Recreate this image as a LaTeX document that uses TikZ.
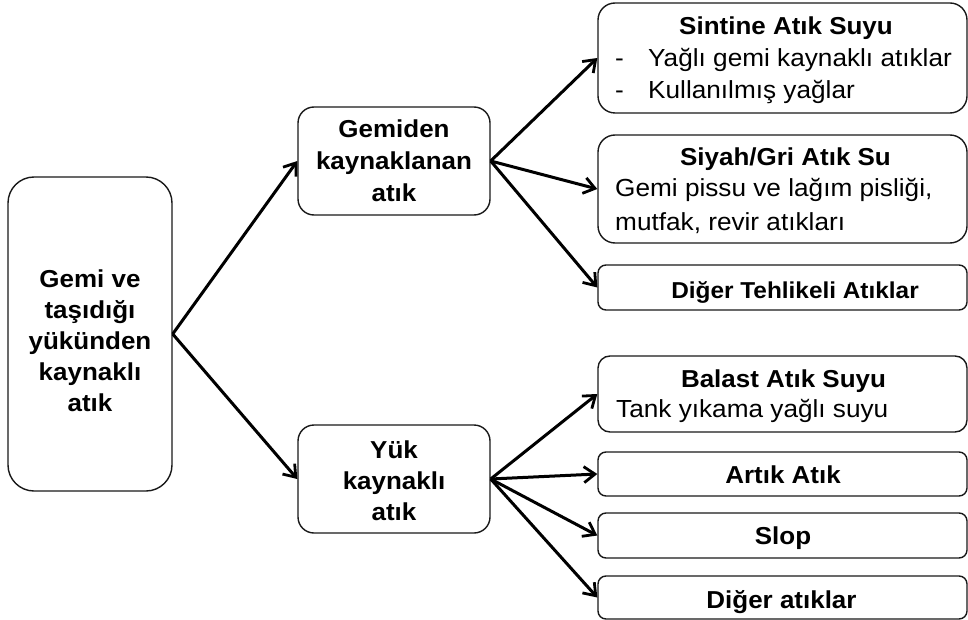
\documentclass[tikz,border=0pt]{standalone}
\usepackage{fontspec}
\setmainfont{Liberation Sans}[FakeStretch=1.06]
\usetikzlibrary{arrows.meta}
\begin{document}
\begin{tikzpicture}[x=1pt,y=-1pt,
  box/.style={draw=black!90, line width=1.4pt, fill=white, inner sep=0pt},
  conn/.style={line width=3pt, -{Straight Barb[length=11pt,width=16pt,line width=2.8pt]}},
  % multi-line blocks are placed by the baseline of their last line
  hd/.style={anchor=base, inner sep=0pt, align=center, font=\fontsize{24.5}{31}\selectfont\bfseries},
  tx/.style={anchor=base west, inner sep=0pt, align=left, font=\fontsize{24.7}{33}\selectfont},
]
\useasboundingbox (0,0) rectangle (968,620);

% boxes
\node[box, minimum width=164pt, minimum height=314pt, rounded corners=26pt] (root) at (90,334) {};
\node[box, minimum width=192pt, minimum height=108pt, rounded corners=16pt] (gem) at (394,161) {};
\node[box, minimum width=192pt, minimum height=108pt, rounded corners=16pt] (yuk) at (394,479) {};
\node[box, minimum width=369pt, minimum height=110pt, rounded corners=17pt] (sin) at (782.5,58) {};
\node[box, minimum width=369pt, minimum height=108pt, rounded corners=17pt] (siy) at (782.5,189) {};
\node[box, minimum width=369pt, minimum height=45pt, rounded corners=8pt] (dt) at (782.5,287.5) {};
\node[box, minimum width=369pt, minimum height=76pt, rounded corners=12pt] (bal) at (782.5,394) {};
\node[box, minimum width=369pt, minimum height=44pt, rounded corners=8pt] (art) at (782.5,474) {};
\node[box, minimum width=369pt, minimum height=45pt, rounded corners=8pt] (slop) at (782.5,535.5) {};
\node[box, minimum width=369pt, minimum height=43pt, rounded corners=8pt] (dig) at (782.5,597.5) {};

% texts
\node[hd] (troot) at (90,411) {Gemi ve\\taşıdığı\\yükünden\\kaynaklı\\atık};
\node[hd, font=\fontsize{24.5}{32}\selectfont\bfseries] (tgem) at (394,202) {Gemiden\\kaynaklanan\\atık};
\node[hd] (tyuk) at (394,520) {Yük\\kaynaklı\\atık};

\node[hd] (tsin) at (786,35) {Sintine Atık Suyu};
\node[tx] (dash1) at (615,67) {-};
\node[tx] (tsin1) at (648,67) {Yağlı gemi kaynaklı atıklar};
\node[tx] (dash2) at (615,99) {-};
\node[tx] (tsin2) at (648,99) {Kullanılmış yağlar};

\node[hd] (tsiy) at (785.5,166) {Siyah/Gri Atık Su};
\node[tx] (tsiy1) at (615,230) {Gemi pissu ve lağım pisliği,\\mutfak, revir atıkları};

\node[hd, font=\fontsize{23}{30}\selectfont\bfseries] (tdt) at (795,298) {Diğer Tehlikeli Atıklar};

\node[hd] (tbal) at (783.5,387) {Balast Atık Suyu};
\node[tx] (tbal1) at (616,417) {Tank yıkama yağlı suyu};

\node[hd] (tart) at (783,483) {Artık Atık};
\node[hd] (tslop) at (783,544) {Slop};
\node[hd] (tdig) at (781.5,608) {Diğer atıklar};

% connectors
\draw[conn] (root.east) -- (gem.west);
\draw[conn] (root.east) -- (yuk.west);
\draw[conn] (gem.east) -- (sin.west);
\draw[conn] (gem.east) -- (siy.west);
\draw[conn] (gem.east) -- (dt.west);
\draw[conn] (yuk.east) -- (bal.west);
\draw[conn] (yuk.east) -- (art.west);
\draw[conn] (yuk.east) -- (slop.west);
\draw[conn] (yuk.east) -- (dig.west);
\end{tikzpicture}
\end{document}
